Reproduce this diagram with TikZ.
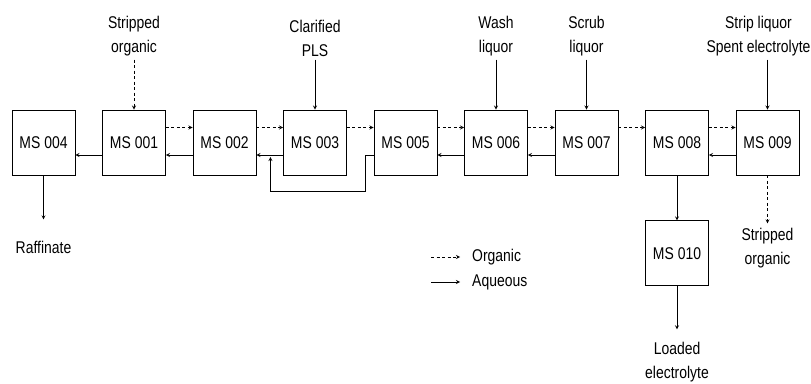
\documentclass[tikz,border=0pt]{standalone}
\usepackage{fontspec}
\setmainfont{Liberation Sans}[FakeStretch=0.82]
\usetikzlibrary{arrows, positioning, calc}

\begin{document}
\begin{tikzpicture}[
  x=1pt, y=1pt,
  node distance=26.6pt,
  msbox/.style={rectangle, draw, line width=0.9pt, minimum width=63pt,
                minimum height=65pt, inner sep=0pt,
                font=\fontsize{17}{24}\selectfont},
  lbl/.style={align=center, inner sep=3pt, font=\fontsize{17}{24}\selectfont},
  aq/.style={->, >=stealth, line width=0.8pt},
  org/.style={aq, dash pattern=on 3pt off 2.5pt}
]
\useasboundingbox (0,0) rectangle (811,383);

%% --- Mixer-settler train ---
\node[msbox] (m004) at (43.5,240.5) {MS 004};
\node[msbox, right=of m004] (m001) {MS 001};
\node[msbox, right=of m001] (m002) {MS 002};
\node[msbox, right=of m002] (m003) {MS 003};
\node[msbox, right=of m003] (m005) {MS 005};
\node[msbox, right=of m005] (m006) {MS 006};
\node[msbox, right=of m006] (m007) {MS 007};
\node[msbox, right=of m007] (m008) {MS 008};
\node[msbox, right=of m008] (m009) {MS 009};
\node[msbox, below=45pt of m008] (m010) {MS 010};

%% --- Organic (dashed, left to right) ---
\draw[org] ([yshift=15pt]m001.east) -- ([yshift=15pt]m002.west);
\draw[org] ([yshift=15pt]m002.east) -- ([yshift=15pt]m003.west);
\draw[org] ([yshift=15pt]m003.east) -- ([yshift=15pt]m005.west);
\draw[org] ([yshift=15pt]m005.east) -- ([yshift=15pt]m006.west);
\draw[org] ([yshift=15pt]m006.east) -- ([yshift=15pt]m007.west);
\draw[org] ([yshift=15pt]m007.east) -- ([yshift=15pt]m008.west);
\draw[org] ([yshift=15pt]m008.east) -- ([yshift=15pt]m009.west);

%% --- Aqueous (solid, right to left) ---
\draw[aq] ([yshift=-12.5pt]m009.west) -- ([yshift=-12.5pt]m008.east);
\draw[aq] ([yshift=-12.5pt]m007.west) -- ([yshift=-12.5pt]m006.east);
\draw[aq] ([yshift=-12.5pt]m006.west) -- ([yshift=-12.5pt]m005.east);
\draw[aq] ([yshift=-12.5pt]m003.west) -- ([yshift=-12.5pt]m002.east);
\draw[aq] ([yshift=-12.5pt]m002.west) -- ([yshift=-12.5pt]m001.east);
\draw[aq] ([yshift=-12.5pt]m001.west) -- ([yshift=-12.5pt]m004.east);

% bypass round MS 003
\coordinate (jn) at ([xshift=14pt,yshift=-12.5pt]m002.east);
\draw[aq, shorten >=2pt] ([yshift=-13pt]m005.west) -- ++(-8pt,0)
  -- ++(0,-36pt) -| (jn);

%% --- Feeds ---
\node[lbl, above=50pt of m001] (sorg) {Stripped\\organic};
\node[lbl, above=50pt of m003] (pls) {Clarified\\PLS};
\node[lbl, above=50pt of m006] (wash) {Wash\\liquor};
\node[lbl, above=50pt of m007] (scrub) {Scrub\\liquor};
\node[lbl, above=50pt of m009, xshift=-9pt] (strip) {Strip liquor\\Spent electrolyte};

\draw[org] (sorg) -- (m001);
\draw[aq] (pls) -- (m003);
\draw[aq] (wash) -- (m006);
\draw[aq] (scrub) -- (m007);
\draw[aq] (strip.south -| m009.north) -- (m009.north);

%% --- Products ---
\node[lbl, below=63pt of m004] (raff) {Raffinate};
\node[lbl, below=50pt of m009] (sorg2) {Stripped\\organic};
\node[lbl, below=53pt of m010] (loaded) {Loaded\\electrolyte};

\draw[aq, shorten >=19pt] (m004) -- (raff);
\draw[org, shorten >=2pt] (m009) -- (sorg2);
\draw[aq] (m008) -- (m010);
\draw[aq, shorten >=10pt] (m010) -- (loaded);

%% --- Legend ---
\node[lbl, anchor=west] (lorg) at (469,126) {Organic};
\node[lbl, anchor=west] (laq) at (469,101) {Aqueous};
\draw[org] ([xshift=-38pt]lorg.west) -- ([xshift=-9pt]lorg.west);
\draw[aq] ([xshift=-38pt]laq.west) -- ([xshift=-9pt]laq.west);

\end{tikzpicture}
\end{document}
